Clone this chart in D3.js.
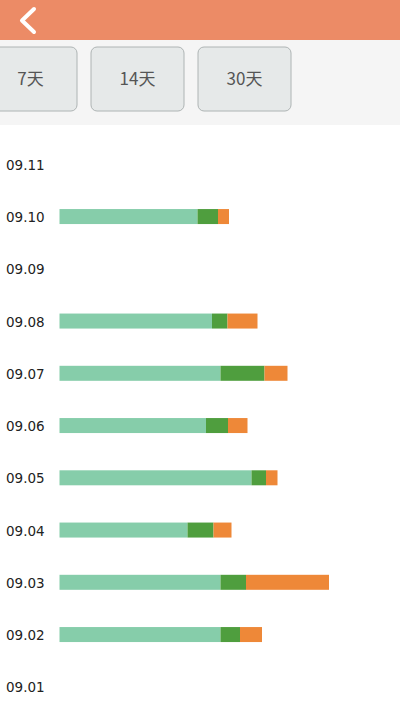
<!DOCTYPE html>
<html>
<head>
<meta charset="utf-8">
<script src="https://cdn.jsdelivr.net/npm/d3@7"></script>
<style>
  html, body { margin: 0; padding: 0; background: #fff; }
  body { width: 400px; height: 710px; overflow: hidden; }
</style>
</head>
<body>
<div id="container"></div>
<script>
// dates shown top to bottom
const dates = ["09.11", "09.10", "09.09", "09.08", "09.07", "09.06", "09.05", "09.04", "09.03", "09.02", "09.01"];
// three stacked parts of each bar
const seriesA = [0, 138, 0, 152.5, 161, 146.5, 192, 128, 161, 161, 0];
const seriesB = [0, 20.5, 0, 15.5, 44, 22, 14.5, 26, 25.5, 19.5, 0];
const seriesC = [0, 11, 0, 30, 23, 19.5, 11.5, 18, 83, 22, 0];
const buttons = ["7天", "14天", "30天"];

const W = 400, H = 710;
const svg = d3.select("#container").append("svg")
  .attr("width", W)
  .attr("height", H)
  .style("display", "block");

// header bar
svg.append("rect").attr("x", 0).attr("y", 0).attr("width", W).attr("height", 40).attr("fill", "#EC8B66");
svg.append("path")
  .attr("d", "M34,9 L22,20.5 L34,32")
  .attr("fill", "none")
  .attr("stroke", "#fff")
  .attr("stroke-width", 4)
  .attr("stroke-linecap", "round")
  .attr("stroke-linejoin", "round");

// tab strip
svg.append("rect").attr("x", 0).attr("y", 40).attr("width", W).attr("height", 85).attr("fill", "#F5F5F5");

const btnX = d3.scalePoint().domain(buttons).range([30.5, 244.5]);
const btn = svg.selectAll("g.btn").data(buttons).join("g")
  .attr("class", "btn")
  .attr("transform", d => `translate(${btnX(d)},79)`);
btn.append("rect")
  .attr("x", -46.5).attr("y", -32)
  .attr("width", 93).attr("height", 64)
  .attr("rx", 6)
  .attr("fill", "#E6E9E9")
  .attr("stroke", "#AEB4B4")
  .attr("stroke-width", 1);
btn.append("text")
  .attr("text-anchor", "middle")
  .attr("dy", "0.35em")
  .attr("fill", "#555")
  .style("font-family", "'Noto Sans CJK SC', 'Noto Sans', sans-serif")
  .style("font-size", "17px")
  .text(d => d);

// chart
const data = dates.map((d, i) => ({date: d, a: seriesA[i], b: seriesB[i], c: seriesC[i]}));
const keys = ["a", "b", "c"];
const color = d3.scaleOrdinal().domain(keys).range(["#86CDAA", "#4F9E3E", "#EE8838"]);

const x = d3.scaleLinear().domain([0, 340]).range([59.5, 399.5]);
const y = d3.scalePoint().domain(dates).range([164.3, 686.8]);
const barH = 15;

const stacked = d3.stack().keys(keys)(data);

svg.append("g").selectAll("g")
  .data(stacked)
  .join("g")
  .attr("fill", d => color(d.key))
  .selectAll("rect")
  .data(d => d.filter(p => p[1] > p[0]))
  .join("rect")
  .attr("x", d => x(d[0]))
  .attr("y", d => y(d.data.date) - barH / 2)
  .attr("width", d => x(d[1]) - x(d[0]))
  .attr("height", barH);

const yAxis = svg.append("g")
  .call(d3.axisLeft(y).tickSize(0).tickPadding(0));
yAxis.select(".domain").remove();
yAxis.selectAll("text")
  .attr("x", 6)
  .attr("dy", "0.38em")
  .attr("text-anchor", "start")
  .attr("fill", "#222")
  .style("font-family", "'DejaVu Sans', sans-serif")
  .style("font-size", "13.5px");
</script>
</body>
</html>
